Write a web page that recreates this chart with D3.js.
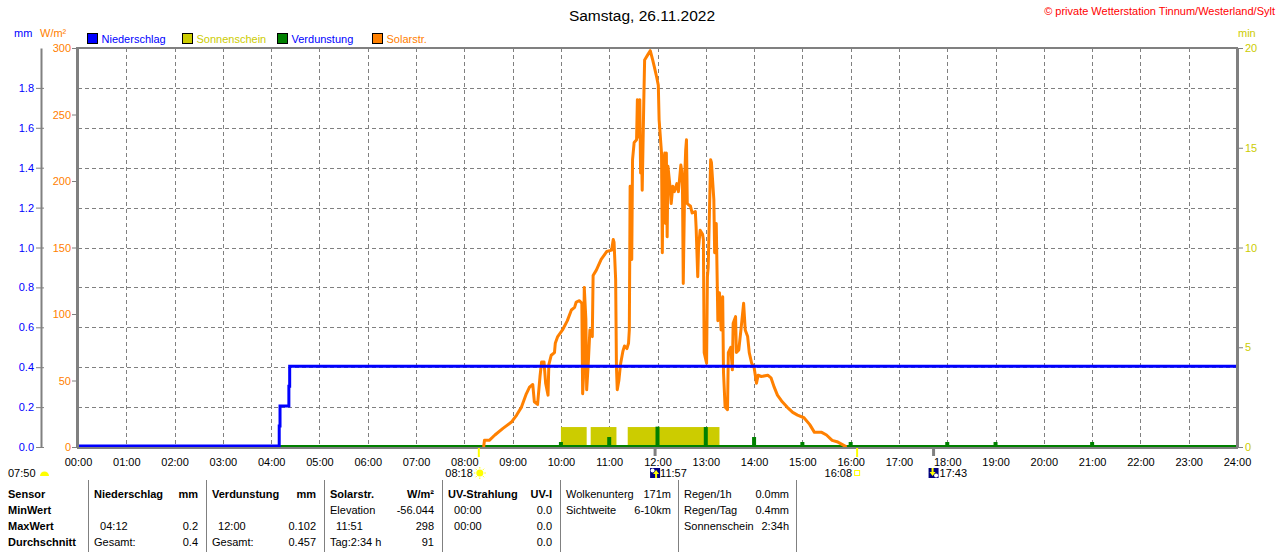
<!doctype html>
<html lang="de">
<head>
<meta charset="utf-8" />
<title>Wetterstation Tinnum - Samstag, 26.11.2022</title>
<script src="https://cdn.jsdelivr.net/npm/d3@7"></script>
<style>
  html, body { margin: 0; padding: 0; background: #fff; }
  svg { display: block; font-family: "Liberation Sans", Arial, sans-serif; }
  text { white-space: pre; }
</style>
</head>
<body>
<div id="chart"></div>
<script>
// ---- data ----
const hourTicks = d3.range(0, 25);               // 00:00 .. 24:00
const mmTicks = [0, 0.2, 0.4, 0.6, 0.8, 1.0, 1.2, 1.4, 1.6, 1.8];
const solarTicks = [0, 50, 100, 150, 200, 250, 300];
const minTicks = [0, 5, 10, 15, 20];

// Niederschlag, cumulative mm (step line)
const rain = [
  ["00:00", 0], ["04:10", 0.1], ["04:11", 0.2], ["04:22", 0.3], ["04:23", 0.4], ["24:00", 0.4]
];

// Sonnenschein, minutes of sun per minute
const sunStart = ["10:00", "10:37", "11:23"];
const sunEnd = ["10:32", "11:09", "13:17"];
const sunValue = [1, 1, 1];

// Verdunstung, mm per hour
const evapHours = ["10:00", "11:00", "12:00", "13:00", "14:00", "15:00", "16:00", "18:00", "19:00", "21:00"];
const evapValues = [0.025, 0.05, 0.102, 0.1, 0.05, 0.025, 0.025, 0.025, 0.025, 0.025];

// Solarstrahlung W/m2
const solar = [
  ["08:24", 0], ["08:25", 5], ["08:31", 5], ["08:38", 9], ["08:48", 14], ["08:59", 19],
  ["09:05", 24], ["09:11", 30], ["09:17", 40], ["09:21", 45], ["09:25", 47], ["09:27", 34],
  ["09:31", 32], ["09:34", 53], ["09:36", 64], ["09:39", 64], ["09:41", 48], ["09:44", 39],
  ["09:45", 62], ["09:48", 69], ["09:52", 71], ["09:53", 78], ["09:56", 83], ["10:02", 88],
  ["10:08", 95], ["10:13", 103], ["10:17", 105], ["10:19", 109], ["10:23", 110], ["10:26", 108],
  ["10:27", 40], ["10:28", 52], ["10:29", 120], ["10:31", 96], ["10:32", 43], ["10:34", 63],
  ["10:36", 88], ["10:39", 83], ["10:40", 129], ["10:44", 133], ["10:50", 141], ["10:57", 147],
  ["11:03", 148], ["11:05", 156], ["11:06", 154], ["11:08", 126], ["11:09", 60], ["11:10", 43],
  ["11:12", 50], ["11:14", 62], ["11:17", 72], ["11:19", 76], ["11:22", 74], ["11:24", 78],
  ["11:25", 88], ["11:26", 196], ["11:28", 141], ["11:29", 216], ["11:31", 229], ["11:34", 231],
  ["11:35", 261], ["11:36", 233], ["11:38", 261], ["11:39", 206], ["11:40", 233], ["11:41", 193],
  ["11:43", 261], ["11:44", 291], ["11:48", 295], ["11:51", 298], ["11:54", 291], ["11:56", 286],
  ["11:59", 278], ["12:01", 272], ["12:02", 246], ["12:05", 221], ["12:06", 146], ["12:07", 211],
  ["12:09", 221], ["12:10", 168], ["12:11", 221], ["12:12", 158], ["12:13", 211], ["12:16", 193],
  ["12:17", 183], ["12:19", 196], ["12:21", 192], ["12:24", 198], ["12:26", 192], ["12:29", 212],
  ["12:30", 208], ["12:31", 198], ["12:32", 123], ["12:34", 206], ["12:35", 223], ["12:36", 231],
  ["12:37", 183], ["12:41", 181], ["12:43", 176], ["12:47", 177], ["12:48", 165], ["12:50", 128],
  ["12:51", 150], ["12:53", 163], ["12:56", 160], ["12:57", 156], ["12:58", 71], ["13:01", 63],
  ["13:02", 128], ["13:03", 135], ["13:06", 216], ["13:07", 214], ["13:10", 186], ["13:11", 146],
  ["13:13", 168], ["13:15", 95], ["13:17", 116], ["13:19", 88], ["13:21", 113], ["13:22", 56],
  ["13:24", 30], ["13:27", 28], ["13:28", 71], ["13:31", 75], ["13:33", 58], ["13:34", 93],
  ["13:37", 98], ["13:38", 71], ["13:41", 73], ["13:44", 90], ["13:47", 108], ["13:49", 88],
  ["13:52", 83], ["13:54", 71], ["13:57", 63], ["14:00", 60], ["14:03", 48], ["14:05", 54],
  ["14:09", 53], ["14:17", 54], ["14:21", 52], ["14:25", 45], ["14:29", 39], ["14:35", 34],
  ["14:41", 30], ["14:48", 26], ["14:54", 24], ["15:02", 22], ["15:09", 17], ["15:15", 11],
  ["15:24", 11], ["15:30", 9], ["15:37", 5], ["15:43", 4], ["15:52", 1], ["15:55", 0]
];

// sun / moon times under the axis
const dawn = "07:50";
const sunrise = "08:18";
const transit = "11:57";
const sunset = "16:08";
const moonset = "17:43";

const legendNames = ["Niederschlag", "Sonnenschein", "Verdunstung", "Solarstr."];

const rowLabels = ["Sensor", "MinWert", "MaxWert", "Durchschnitt"];
const tableColumns = [
  [["Niederschlag", "mm"], ["", ""], ["  04:12", "0.2"], ["Gesamt:", "0.4"]],
  [["Verdunstung", "mm"], ["", ""], ["  12:00", "0.102"], ["Gesamt:", "0.457"]],
  [["Solarstr.", "W/m²"], ["Elevation", "-56.044"], ["  11:51", "298"], ["Tag:2:34 h", "91"]],
  [["UV-Strahlung", "UV-I"], ["  00:00", "0.0"], ["  00:00", "0.0"], ["", "0.0"]]
];
const infoColumns = [
  [["Wolkenunterg", "171m"], ["Sichtweite", "6-10km"]],
  [["Regen/1h", "0.0mm"], ["Regen/Tag", "0.4mm"], ["Sonnenschein", "2:34h"]]
];

// ---- drawing ----
const W = 1280, H = 552;
const BLUE = "#0000ff", ORANGE = "#ff8000", YELLOW = "#cccc00", GREEN = "#008000", GRAY = "#808080";

const toMin = s => { const p = s.split(":"); return +p[0] * 60 + +p[1]; };
const hh = h => (h < 10 ? "0" : "") + h + ":00";

const x = d3.scaleLinear().domain([0, 1440]).range([78, 1237]);
const yMm = d3.scaleLinear().domain([0, 2]).range([447, 48]);
const ySol = d3.scaleLinear().domain([0, 300]).range([447, 48]);
const yMin = d3.scaleLinear().domain([0, 20]).range([447, 48]);

const svg = d3.select("#chart").append("svg").attr("width", W).attr("height", H);

// title + copyright
svg.append("text").attr("x", 642).attr("y", 21).attr("text-anchor", "middle")
  .style("font-size", "15.5px").text("Samstag, 26.11.2022");
svg.append("text").attr("x", 1275).attr("y", 15).attr("text-anchor", "end")
  .style("font-size", "11px").style("fill", "#ff0000")
  .text("© private Wetterstation Tinnum/Westerland/Sylt");

// unit labels
svg.append("text").attr("x", 14).attr("y", 37).style("font-size", "11px").style("fill", BLUE).text("mm");
svg.append("text").attr("x", 40).attr("y", 37).style("font-size", "11px").style("fill", ORANGE).text("W/m²");
svg.append("text").attr("x", 1238).attr("y", 37).style("font-size", "11px").style("fill", YELLOW).text("min");

// legend
const legendFill = [BLUE, YELLOW, GREEN, ORANGE];
const legendText = [BLUE, YELLOW, BLUE, ORANGE];
const legend = svg.append("g").selectAll("g").data(legendNames).enter().append("g")
  .attr("transform", (d, i) => `translate(${87.5 + i * 95},${33.5})`);
legend.append("rect").attr("width", 10).attr("height", 10)
  .style("fill", (d, i) => legendFill[i]).style("stroke", "#000");
legend.append("text").attr("x", 14).attr("y", 9).style("font-size", "11px")
  .style("fill", (d, i) => legendText[i]).text(d => d);

// grid
const grid = svg.append("g").style("stroke", GRAY).style("stroke-dasharray", "4,3").style("stroke-width", 1);
grid.selectAll("line.h").data(mmTicks.filter(d => d > 0)).enter().append("line")
  .attr("x1", x(0)).attr("x2", x(1440))
  .attr("y1", d => Math.round(yMm(d)) + 0.5).attr("y2", d => Math.round(yMm(d)) + 0.5);
grid.selectAll("line.v").data(hourTicks.filter(h => h > 0 && h < 24)).enter().append("line")
  .attr("y1", yMm(2)).attr("y2", yMm(0))
  .attr("x1", h => Math.round(x(h * 60)) + 0.5).attr("x2", h => Math.round(x(h * 60)) + 0.5);

// sunshine bars
svg.append("g").selectAll("rect").data(sunStart).enter().append("rect")
  .attr("x", (d, i) => x(toMin(d)))
  .attr("width", (d, i) => x(toMin(sunEnd[i])) - x(toMin(d)))
  .attr("y", (d, i) => yMin(sunValue[i]))
  .attr("height", (d, i) => yMin(0) - yMin(sunValue[i]))
  .style("fill", YELLOW);

// evaporation baseline + bars
svg.append("line").attr("x1", x(0)).attr("x2", x(1440)).attr("y1", yMm(0) - 1).attr("y2", yMm(0) - 1)
  .style("stroke", GREEN).style("stroke-width", 2);
svg.append("g").selectAll("rect").data(evapHours).enter().append("rect")
  .attr("x", d => x(toMin(d)) - 2)
  .attr("width", 4)
  .attr("y", (d, i) => yMm(evapValues[i]))
  .attr("height", (d, i) => yMm(0) - yMm(evapValues[i]))
  .style("fill", GREEN);

// solar line
const solarLine = d3.line().x(d => x(toMin(d[0]))).y(d => ySol(d[1]));
svg.append("path").datum(solar).attr("d", solarLine)
  .style("fill", "none").style("stroke", ORANGE).style("stroke-width", 3).style("stroke-linejoin", "round");

// rain step line
const rainLine = d3.line().x(d => x(toMin(d[0]))).y(d => yMm(d[1]) - 1).curve(d3.curveStepAfter);
svg.append("path").datum(rain).attr("d", rainLine)
  .style("fill", "none").style("stroke", BLUE).style("stroke-width", 3);

// frame
const frame = svg.append("g").style("stroke", GRAY).style("fill", "none");
frame.append("line").attr("x1", 76).attr("x2", 1238).attr("y1", 48).attr("y2", 48).style("stroke-width", 2);
frame.append("line").attr("x1", 77).attr("x2", 1238).attr("y1", 448).attr("y2", 448).style("stroke-width", 2);

// axes
const styleAxis = (g, color) => {
  g.attr("font-size", null).attr("font-family", null);
  g.selectAll("text").style("font-size", "11px").style("fill", color);
  g.selectAll("line").style("stroke", GRAY);
  g.select(".domain").style("stroke", GRAY);
};

svg.append("g").attr("transform", "translate(41,0)")
  .call(d3.axisLeft(yMm).tickValues(mmTicks).tickFormat(d3.format(".1f")).tickSize(5).tickSizeOuter(0).tickPadding(2))
  .call(g => styleAxis(g, BLUE))
  .call(g => g.selectAll(".tick line").attr("x1", 3))
  .call(g => g.select(".domain").style("stroke-width", 2));

svg.append("g").attr("transform", "translate(77,0)")
  .call(d3.axisLeft(ySol).tickValues(solarTicks).tickSize(5).tickSizeOuter(0).tickPadding(1))
  .call(g => styleAxis(g, ORANGE))
  .call(g => g.select(".domain").style("stroke-width", 3));

svg.append("g").attr("transform", "translate(1237,0)")
  .call(d3.axisRight(yMin).tickValues(minTicks).tickSize(6).tickSizeOuter(0).tickPadding(2))
  .call(g => styleAxis(g, YELLOW))
  .call(g => g.select(".domain").style("stroke-width", 3));

svg.append("g").attr("transform", "translate(0,447)")
  .call(d3.axisBottom(x).tickValues(hourTicks.map(h => h * 60)).tickFormat(m => hh(m / 60)).tickSize(0).tickPadding(11))
  .call(g => styleAxis(g, "#000"))
  .call(g => g.select(".domain").remove());

// sun / moon markers
const marks = svg.append("g");
[sunrise, sunset].forEach(t => {
  marks.append("line").attr("x1", x(toMin(t))).attr("x2", x(toMin(t))).attr("y1", 448).attr("y2", 457)
    .style("stroke", "#ffff00").style("stroke-width", 2);
});
[transit, moonset].forEach(t => {
  marks.append("line").attr("x1", x(toMin(t))).attr("x2", x(toMin(t))).attr("y1", 448).attr("y2", 456)
    .style("stroke", GRAY).style("stroke-width", 3);
});

// dawn: label at the left edge with a half disc
marks.append("text").attr("x", 8).attr("y", 477).style("font-size", "11px").text(dawn);
marks.append("path").attr("d", "M40,476 A4.5,4.5 0 0 1 49,476 Z").style("fill", "#ffff00");

// sunrise: label + sun
const xr = x(toMin(sunrise));
marks.append("text").attr("x", xr - 6).attr("y", 477).attr("text-anchor", "end").style("font-size", "11px").text(sunrise);
marks.append("circle").attr("cx", xr + 1).attr("cy", 473).attr("r", 3.5).style("fill", "#ffff00");
d3.range(8).forEach(k => {
  const a = k * Math.PI / 4;
  marks.append("line")
    .attr("x1", xr + 1 + Math.cos(a) * 4.5).attr("y1", 473 + Math.sin(a) * 4.5)
    .attr("x2", xr + 1 + Math.cos(a) * 6).attr("y2", 473 + Math.sin(a) * 6)
    .style("stroke", "#ffff00").style("stroke-width", 1);
});

// transit + moonset icons
const icon = (cx, up) => {
  const g = marks.append("g").attr("transform", `translate(${cx - 5},468)`);
  g.append("rect").attr("width", 10).attr("height", 10).style("fill", "#000080");
  if (up) {
    g.append("circle").attr("cx", 2.5).attr("cy", 2.5).attr("r", 2).style("fill", "#fff");
    g.append("path").attr("d", "M6,2 L9,6 L7,6 L7,10 L5,10 L5,6 L3,6 Z").style("fill", "#ffff00");
  } else {
    g.append("circle").attr("cx", 7.5).attr("cy", 7.5).attr("r", 2).style("fill", "#fff");
    g.append("path").attr("d", "M4,8 L1,4 L3,4 L3,0 L5,0 L5,4 L7,4 Z").style("fill", "#ffff00");
  }
};
const xt = x(toMin(transit));
icon(xt, true);
marks.append("text").attr("x", xt + 5).attr("y", 477).style("font-size", "11px").text(transit);
const xm = x(toMin(moonset));
icon(xm, false);
marks.append("text").attr("x", xm + 6).attr("y", 477).style("font-size", "11px").text(moonset);

// sunset: label + hollow square
const xs = x(toMin(sunset));
marks.append("text").attr("x", xs - 5).attr("y", 477).attr("text-anchor", "end").style("font-size", "11px").text(sunset);
marks.append("rect").attr("x", xs - 2.5).attr("y", 470.5).attr("width", 5).attr("height", 5)
  .style("fill", "none").style("stroke", "#ffff00");

// ---- table ----
const table = svg.append("g").style("font-size", "11px");
const rowY = i => 498 + i * 16;
const colLeft = i => 94 + i * 118;

d3.range(7).forEach(i => {
  table.append("line").attr("x1", 88.5 + i * 118).attr("x2", 88.5 + i * 118).attr("y1", 480).attr("y2", 552)
    .style("stroke", GRAY);
});

table.selectAll("text.row").data(rowLabels).enter().append("text")
  .attr("x", 8).attr("y", (d, i) => rowY(i)).style("font-weight", "bold").text(d => d);

tableColumns.forEach((col, c) => {
  col.forEach((cell, r) => {
    table.append("text").attr("x", colLeft(c)).attr("y", rowY(r))
      .style("font-weight", r === 0 ? "bold" : "normal").text(cell[0]);
    table.append("text").attr("x", colLeft(c) + 104).attr("y", rowY(r)).attr("text-anchor", "end")
      .style("font-weight", r === 0 ? "bold" : "normal").text(cell[1]);
  });
});

infoColumns.forEach((col, c) => {
  col.forEach((cell, r) => {
    table.append("text").attr("x", colLeft(c + 4)).attr("y", rowY(r)).text(cell[0]);
    table.append("text").attr("x", colLeft(c + 4) + 105).attr("y", rowY(r)).attr("text-anchor", "end").text(cell[1]);
  });
});
</script>
</body>
</html>
